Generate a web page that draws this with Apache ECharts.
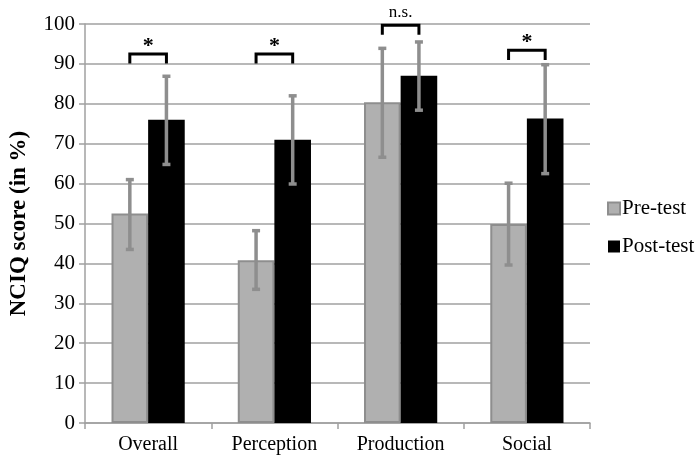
<!DOCTYPE html>
<html>
<head>
<meta charset="utf-8">
<script src="https://cdn.jsdelivr.net/npm/echarts@6/dist/echarts.min.js"></script>
<style>html,body{margin:0;padding:0;background:#fff}#c{width:696px;height:458px}</style>
</head>
<body>
<div id="c"></div>
<script>
var categories = ['Overall', 'Perception', 'Production', 'Social'];
var preTest = [52.5, 40.8, 80.4, 49.9];
var postTest = [76.0, 71.0, 87.0, 76.3];
var preErrLow = [43.5, 33.5, 66.6, 39.6];
var preErrHigh = [61.0, 48.2, 93.9, 60.1];
var postErrLow = [64.8, 59.9, 78.4, 62.5];
var postErrHigh = [86.9, 82.0, 95.5, 89.8];
var sigLabels = ['*', '*', 'n.s.', '*'];
var sigHeights = [92.5, 92.5, 99.7, 93.4];
var yTicks = [0, 10, 20, 30, 40, 50, 60, 70, 80, 90, 100];

var FONT = '"Liberation Serif", "Times New Roman", serif';
var CAT_GAP = 0.42;

var errData = [];
for (var i = 0; i < categories.length; i++) {
  errData.push([i, preErrLow[i], preErrHigh[i], -1]);
  errData.push([i, postErrLow[i], postErrHigh[i], 1]);
}
var sigData = categories.map(function (c, i) { return [i, sigHeights[i], sigLabels[i]]; });

function barOffset(api) {
  var band = api.size([1, 0])[0];
  var bw = band * (1 - CAT_GAP) / 2;
  return bw / 2;
}

var chart = echarts.init(document.getElementById('c'));
chart.setOption({
  animation: false,
  textStyle: { fontFamily: FONT },
  grid: { left: 83, right: 106, top: 24, bottom: 35 },
  legend: {
    orient: 'vertical',
    left: 602,
    top: 193,
    itemWidth: 12,
    itemHeight: 12,
    itemGap: 17,
    icon: 'rect',
    data: ['Pre-test', 'Post-test'],
    textStyle: { fontFamily: FONT, fontSize: 21, color: '#000', padding: [0, 0, 0, -3] }
  },
  xAxis: {
    type: 'category',
    data: categories,
    axisLine: { lineStyle: { color: '#a0a0a0', width: 1.5 } },
    axisTick: { show: true, length: 6, lineStyle: { color: '#a0a0a0', width: 1.5 } },
    axisLabel: { fontFamily: FONT, fontSize: 20, color: '#000', margin: 12 }
  },
  yAxis: {
    type: 'value',
    min: 0, max: 100, interval: 10,
    name: 'NCIQ score (in %)',
    nameLocation: 'middle',
    nameGap: 54,
    nameTextStyle: { fontFamily: FONT, fontSize: 23, fontWeight: 'bold', color: '#000' },
    axisLine: { show: true, lineStyle: { color: '#a0a0a0', width: 1.5 } },
    axisTick: { show: true, length: 6, lineStyle: { color: '#a0a0a0', width: 1.5 } },
    splitLine: { lineStyle: { color: '#a0a0a0', width: 1.5 } },
    axisLabel: { fontFamily: FONT, fontSize: 21, color: '#000', margin: 10,
      formatter: function (v) { return yTicks.indexOf(v) >= 0 ? String(v) : ''; } }
  },
  series: [
    {
      name: 'Pre-test', type: 'bar', data: preTest,
      barGap: '0%', barCategoryGap: (CAT_GAP * 100) + '%',
      itemStyle: { color: '#b0b0b0', borderColor: '#8e8e8e', borderWidth: 2 }
    },
    {
      name: 'Post-test', type: 'bar', data: postTest,
      barGap: '0%', barCategoryGap: (CAT_GAP * 100) + '%',
      itemStyle: { color: '#000000' }
    },
    {
      type: 'custom',
      data: errData,
      z: 5,
      silent: true,
      renderItem: function (params, api) {
        var off = barOffset(api) * api.value(3);
        var lo = api.coord([api.value(0), api.value(1)]);
        var hi = api.coord([api.value(0), api.value(2)]);
        var x = lo[0] + off;
        var cap = 4;
        var st = { stroke: '#8e8e8e', lineWidth: 3.5 };
        return {
          type: 'group',
          children: [
            { type: 'line', shape: { x1: x, y1: lo[1], x2: x, y2: hi[1] }, style: st },
            { type: 'line', shape: { x1: x - cap, y1: lo[1], x2: x + cap, y2: lo[1] }, style: st },
            { type: 'line', shape: { x1: x - cap, y1: hi[1], x2: x + cap, y2: hi[1] }, style: st }
          ]
        };
      }
    },
    {
      type: 'custom',
      data: sigData,
      z: 6,
      silent: true,
      clip: false,
      renderItem: function (params, api) {
        var off = barOffset(api);
        var p = api.coord([api.value(0), api.value(1)]);
        var drop = api.size([0, 2.4])[1];
        var x1 = p[0] - off, x2 = p[0] + off, y = p[1];
        var label = sigData[params.dataIndex][2];
        var isStar = label === '*';
        return {
          type: 'group',
          children: [
            { type: 'polyline', shape: { points: [[x1, y + drop], [x1, y], [x2, y], [x2, y + drop]] },
              style: { stroke: '#000', lineWidth: 3, fill: null } },
            { type: 'text', x: p[0], y: y + (isStar ? 3 : -4),
              style: { text: label, x: 0, y: 0, align: 'center', verticalAlign: 'bottom',
                fontFamily: FONT, fontSize: isStar ? 22 : 17, fontWeight: isStar ? 'bold' : 'normal', fill: '#000' } }
          ]
        };
      }
    }
  ]
});
</script>
</body>
</html>
